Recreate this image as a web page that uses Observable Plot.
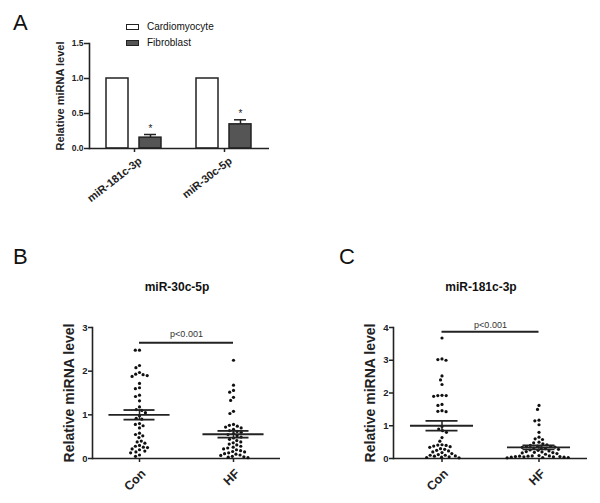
<!DOCTYPE html>
<html>
<head>
<meta charset="utf-8">
<script src="https://cdn.jsdelivr.net/npm/d3@7"></script>
<script src="https://cdn.jsdelivr.net/npm/@observablehq/plot@0.6"></script>
<style>
  html, body { margin: 0; padding: 0; background: #fff; }
  body { font-family: Arial, "Liberation Sans", sans-serif; color: #111; }
  #root { position: relative; width: 600px; height: 503px; overflow: hidden; background: #fff; }
  .panel { position: absolute; }
  .letter { position: absolute; font-size: 22px; line-height: 22px; color: #111; }
  .title { position: absolute; font-size: 12px; font-weight: bold; transform: translate(-50%, -50%); white-space: nowrap; }
  .legend { position: absolute; left: 126px; top: 19px; font-size: 10px; line-height: 16px; }
  .legend .row { display: flex; align-items: center; height: 16px; }
  .legend .sw { width: 11px; height: 4px; border: 1.5px solid #222; margin-right: 8px; }
</style>
</head>
<body>
<div id="root"></div>
<script>
// ---------- Panel A data ----------
const genesA = ["miR-181c-3p", "miR-30c-5p"];
const cellTypes = ["Cardiomyocyte", "Fibroblast"];
const cardioLevel = [1.0, 1.0];
const cardioSem = [0, 0];
const fibroLevel = [0.155, 0.345];
const fibroSem = [0.045, 0.065];
const sigMarks = ["*", "*"];
const ticksA = [0, 0.5, 1.0, 1.5];

// ---------- Panels B & C data ----------
const groups = ["Con", "HF"];
const pText = "p<0.001";

const titleB = "miR-30c-5p";
const conB = [2.48, 2.48, 2.13, 2.08, 1.97, 1.93, 1.92, 1.90, 1.88, 1.72, 1.62, 1.60, 1.45, 1.42, 1.32,
  1.18, 1.12, 1.10, 1.05, 0.98, 0.92, 0.90, 0.80, 0.78, 0.75, 0.70, 0.58, 0.55, 0.52, 0.48, 0.40,
  0.38, 0.35, 0.30, 0.28, 0.26, 0.25, 0.22, 0.20, 0.17, 0.15, 0.13, 0.08, 0.05];
const hfB = [2.25, 1.68, 1.56, 1.52, 1.40, 1.33, 1.08, 1.03, 0.78, 0.76, 0.74, 0.72, 0.70, 0.67, 0.64,
  0.62, 0.60, 0.57, 0.55, 0.52, 0.49, 0.47, 0.44, 0.41, 0.38, 0.36, 0.33, 0.31, 0.28, 0.26, 0.24,
  0.22, 0.20, 0.18, 0.16, 0.15, 0.13, 0.11, 0.10, 0.08, 0.07, 0.05, 0.04, 0.03, 0.02];
const meanB = [1.0, 0.555];
const semB = [0.11, 0.077];
const pLevelB = 2.65;
const pTextLevelB = 2.86;
const ticksB = [0, 1, 2, 3];

const titleC = "miR-181c-3p";
const conC = [3.68, 3.04, 3.02, 3.00, 2.52, 2.40, 2.26, 1.93, 1.92, 1.92, 1.90, 1.65, 1.62, 1.46, 1.44,
  1.43, 0.98, 0.90, 0.85, 0.80, 0.64, 0.53, 0.42, 0.41, 0.40, 0.38, 0.36, 0.34, 0.30, 0.28, 0.25,
  0.23, 0.20, 0.18, 0.15, 0.12, 0.10, 0.10, 0.08, 0.07, 0.05, 0.04, 0.03, 0.02];
const hfC = [1.62, 1.50, 1.17, 1.15, 1.03, 0.80, 0.65, 0.60, 0.58, 0.50, 0.48, 0.45, 0.42, 0.40, 0.38,
  0.37, 0.36, 0.35, 0.34, 0.33, 0.32, 0.30, 0.28, 0.26, 0.25, 0.23, 0.21, 0.20, 0.19, 0.18, 0.17,
  0.15, 0.13, 0.09, 0.08, 0.08, 0.07, 0.07, 0.06, 0.06, 0.05, 0.05, 0.04, 0.04, 0.03, 0.03, 0.02];
const meanC = [1.0, 0.34];
const semC = [0.15, 0.06];
const pLevelC = 3.87;
const pTextLevelC = 4.06;
const ticksC = [0, 1, 2, 3, 4];

// ---------- styling ----------
const INK = "#222";
const FONT = "Arial, 'Liberation Sans', sans-serif";
const root = document.getElementById("root");

function place(node, left, top) {
  const wrap = document.createElement("div");
  wrap.className = "panel";
  wrap.style.left = left + "px";
  wrap.style.top = top + "px";
  wrap.appendChild(node);
  root.appendChild(wrap);
}
function addDiv(cls, text, left, top) {
  const d = document.createElement("div");
  d.className = cls;
  d.textContent = text;
  d.style.left = left + "px";
  d.style.top = top + "px";
  root.appendChild(d);
  return d;
}

// ---------- Panel A ----------
const barData = genesA.flatMap((gene, i) => [
  {gene, cell: cellTypes[0], v: cardioLevel[i], s: cardioSem[i], sig: ""},
  {gene, cell: cellTypes[1], v: fibroLevel[i], s: fibroSem[i], sig: sigMarks[i]}
]);
const errData = barData.filter(d => d.s > 0);

const chartA = Plot.plot({
  width: 300, height: 215,
  marginLeft: 88, marginRight: 31, marginTop: 43, marginBottom: 67,
  style: {fontFamily: FONT, background: "transparent", color: INK},
  fx: {domain: genesA, padding: 0, label: null},
  x: {domain: cellTypes, paddingInner: 0.33, paddingOuter: 0.52, axis: null},
  y: {domain: [0, 1.5], label: null},
  color: {domain: cellTypes, range: ["#ffffff", "#555555"]},
  marks: [
    Plot.axisY({ticks: ticksA, tickFormat: d3.format(".1f"), tickSize: 5, tickPadding: 1,
      fontSize: 8.5, fontWeight: "bold", stroke: INK, strokeWidth: 1.5, label: null}),
    Plot.axisY({ticks: ticksA, tickFormat: () => "", tickSize: 0, label: "Relative miRNA level",
      labelArrow: "none", labelAnchor: "center", labelOffset: 33, fontSize: 11, fontWeight: "bold"}),
    Plot.axisFx({anchor: "bottom", tickSize: 4, tickFormat: () => "", stroke: INK, strokeWidth: 1.5, label: null}),
    Plot.axisFx({anchor: "bottom", tickSize: 0, tickPadding: 11, dx: 6, tickRotate: -38, fontSize: 11,
      fontWeight: "bold", label: null}),
    Plot.frame({anchor: "left", facetAnchor: "left", stroke: INK, strokeWidth: 1.6}),
    Plot.barY(barData, {fx: "gene", x: "cell", y: "v", fill: "cell", stroke: INK, strokeWidth: 1.5}),
    Plot.ruleX(errData, {fx: "gene", x: "cell", y1: "v", y2: d => d.v + d.s, stroke: INK, strokeWidth: 1.5}),
    Plot.tickY(errData, {fx: "gene", x: "cell", y: d => d.v + d.s, insetLeft: 5, insetRight: 5, stroke: INK, strokeWidth: 1.5}),
    Plot.text(errData, {fx: "gene", x: "cell", y: d => d.v + d.s, text: "sig", dy: -3, lineAnchor: "bottom", fontSize: 10}),
    Plot.ruleY([0], {stroke: INK, strokeWidth: 1.6})
  ]
});
place(chartA, 0, 0);

const legend = document.createElement("div");
legend.className = "legend";
legend.innerHTML = cellTypes.map((c, i) =>
  `<div class="row"><span class="sw" style="background:${["#ffffff", "#555555"][i]}"></span><span>${c}</span></div>`).join("");
root.appendChild(legend);

// ---------- Panels B & C ----------
function scatterPanel({con, hf, mean, sem, yMax, ticks, pLevel, pTextLevel, marginLeft, marginRight}) {
  const pts = [...con.map(v => ({g: groups[0], v})), ...hf.map(v => ({g: groups[1], v}))];
  const stats = groups.map((g, i) => ({g, m: mean[i], s: sem[i]}));
  const pBar = groups.map((g, i) => ({g, y: pLevel, x1: i === 0 ? 0 : -1, x2: i === 0 ? 1 : 0}));
  const pLab = [{g: groups[0], y: pTextLevel, t: pText}];
  return Plot.plot({
    width: 300, height: 203,
    marginLeft, marginRight, marginTop: 27, marginBottom: 45,
    style: {fontFamily: FONT, background: "transparent", color: INK},
    fx: {domain: groups, padding: 0, label: null},
    x: {domain: [-1, 1], axis: null},
    y: {domain: [0, yMax], label: null},
    marks: [
      Plot.axisY({ticks, tickFormat: d3.format("d"), tickSize: 4, tickPadding: 1,
        fontSize: 9.5, fontWeight: "bold", stroke: INK, strokeWidth: 1.5, label: null}),
      Plot.axisY({ticks, tickFormat: () => "", tickSize: 0, label: "Relative miRNA level",
        labelArrow: "none", labelAnchor: "center", labelOffset: 28, fontSize: 14, fontWeight: "bold"}),
      Plot.axisFx({anchor: "bottom", tickSize: 4, tickFormat: () => "", stroke: INK, strokeWidth: 1.5, label: null}),
      Plot.axisFx({anchor: "bottom", tickSize: 0, tickPadding: 13, dx: 4, tickRotate: -45, fontSize: 12.5,
        fontWeight: "bold", label: null}),
      Plot.frame({anchor: "left", facetAnchor: "left", stroke: INK, strokeWidth: 1.6}),
      Plot.ruleY([0], {stroke: INK, strokeWidth: 1.6}),
      Plot.dot(pts, Plot.dodgeX("middle", {fx: "g", y: "v", r: 1.6, padding: 0.4, fill: "#111", stroke: "none"})),
      Plot.ruleY(stats, {fx: "g", y: "m", x1: -0.65, x2: 0.65, stroke: INK, strokeWidth: 1.8}),
      Plot.ruleY(stats, {fx: "g", y: d => d.m + d.s, x1: -0.33, x2: 0.33, stroke: INK, strokeWidth: 1.8}),
      Plot.ruleY(stats, {fx: "g", y: d => d.m - d.s, x1: -0.33, x2: 0.33, stroke: INK, strokeWidth: 1.8}),
      Plot.ruleX(stats, {fx: "g", x: 0, y1: d => d.m - d.s, y2: d => d.m + d.s, stroke: INK, strokeWidth: 1.5}),
      Plot.ruleY(pBar, {fx: "g", y: "y", x1: "x1", x2: "x2", stroke: INK, strokeWidth: 2}),
      Plot.text(pLab, {fx: "g", x: 1, y: "y", text: "t", fontSize: 9, fill: "#333"})
    ]
  });
}

place(scatterPanel({con: conB, hf: hfB, mean: meanB, sem: semB, yMax: 3, ticks: ticksB,
  pLevel: pLevelB, pTextLevel: pTextLevelB, marginLeft: 91, marginRight: 20}), 0, 300);
place(scatterPanel({con: conC, hf: hfC, mean: meanC, sem: semC, yMax: 4, ticks: ticksC,
  pLevel: pLevelC, pTextLevel: pTextLevelC, marginLeft: 92, marginRight: 13}), 300, 300);

addDiv("title", titleB, 177, 287);
addDiv("title", titleC, 481, 287);

addDiv("letter", "A", 13, 12);
addDiv("letter", "B", 13, 246);
addDiv("letter", "C", 339, 246);
</script>
</body>
</html>
